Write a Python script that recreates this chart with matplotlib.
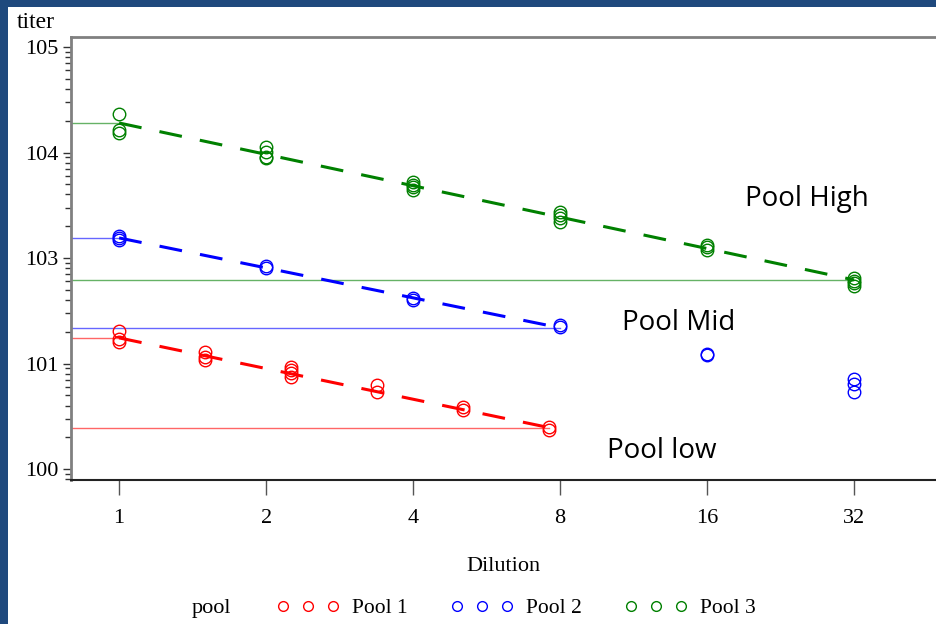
import matplotlib
matplotlib.use("Agg")
import matplotlib.pyplot as plt
from matplotlib.patches import Rectangle
from matplotlib.lines import Line2D
from matplotlib.ticker import LogLocator, NullFormatter, FixedLocator

# dilutions and titers
dil_p1 = [1, 1, 1, 1.5, 1.5, 1.5, 2.25, 2.25, 2.25, 2.25, 3.375, 3.375,
          5.0625, 5.0625, 7.59375, 7.59375]
tit_p1 = [20.3, 17.1, 16.0, 12.9, 11.6, 10.8, 9.33, 8.68, 8.06, 7.50,
          6.25, 5.41, 3.84, 3.62, 2.52, 2.34]

dil_p2 = [1, 1, 1, 2, 2, 4, 4, 8, 8, 16, 16, 32, 32, 32]
tit_p2 = [162, 155, 148, 84, 80.4, 41.8, 40.0, 23.0, 22.4, 12.3, 12.0,
          7.13, 6.40, 5.37]

dil_p3 = [1, 1, 1, 2, 2, 2, 2, 4, 4, 4, 4, 8, 8, 8, 8, 16, 16, 16,
          32, 32, 32, 32]
tit_p3 = [2320, 1630, 1530, 1130, 1010, 905, 885, 525, 492, 471, 441,
          273, 256, 239, 219, 133, 127, 119, 64.6, 60.5, 58.0, 54.3]

# fitted dashed lines (start / end)
fit_p1 = ([1, 7.59375], [17.5, 2.47])
fit_p2 = ([1, 8], [155, 21.8])
fit_p3 = ([1, 32], [1905, 62])

x_ticks = [1, 2, 4, 8, 16, 32]
x_labels = ["1", "2", "4", "8", "16", "32"]
y_ticks = [1, 10, 100, 1000, 10000]
y_labels = ["100", "101", "103", "104", "105"]

pools = ["Pool 1", "Pool 2", "Pool 3"]
colors = ["#FF0000", "#0000FF", "#008000"]
labels_txt = [("Pool High", 25.6, 360), ("Pool Mid", 14.0, 24.0), ("Pool low", 12.9, 1.48)]

serif = "Liberation Serif"

fig = plt.figure(figsize=(9.36, 6.24), dpi=100, facecolor="#1F497D")
fig.patches.append(Rectangle((8 / 936, 0), 1, 1 - 7 / 624, transform=fig.transFigure,
                             facecolor="white", edgecolor="none", zorder=-10))

ax = fig.add_axes([71 / 936, 1 - 480 / 624, 1 - 71 / 936, (480 - 37) / 624])
ax.set_zorder(1)
ax.patch.set_alpha(0)
ax.set_xscale("log", base=2)
ax.set_yscale("log")
xmin = 0.797
ax.set_xlim(xmin, 47.1)
ax.set_ylim(0.787, 12440)

data = [(dil_p1, tit_p1, fit_p1), (dil_p2, tit_p2, fit_p2), (dil_p3, tit_p3, fit_p3)]
for (dx, ty, fit), c in zip(data, colors):
    fx, fy = fit
    # horizontal reference lines
    for xv, yv in zip(fx, fy):
        ax.plot([xmin, xv], [yv, yv], color=c, lw=1.0, alpha=0.6, zorder=2)
    ax.plot(fx, fy, color=c, lw=2.2, dashes=(7.5, 6), zorder=3)
    ax.plot(dx, ty, linestyle="none", marker="o", markersize=9,
            markerfacecolor="none", markeredgecolor=c, markeredgewidth=1.0, zorder=4)

for txt, xv, yv in labels_txt:
    ax.text(xv, yv, txt, ha="center", va="center", fontsize=20, family="Open Sans")

ax.xaxis.set_major_locator(FixedLocator(x_ticks))
ax.set_xticklabels(x_labels, fontsize=16, family=serif)
ax.xaxis.set_minor_locator(FixedLocator([]))
ax.set_yticks(y_ticks)
ax.set_yticklabels(y_labels, fontsize=16, family=serif)
ax.yaxis.set_minor_locator(LogLocator(base=10, subs=range(2, 10)))
ax.yaxis.set_minor_formatter(NullFormatter())

ax.tick_params(axis="x", which="major", length=11, width=1, color="#555555", pad=10)
ax.tick_params(axis="y", which="major", length=6, width=1, color="#333333", pad=3)
ax.tick_params(axis="y", which="minor", length=4, width=1, color="#333333")

ax.spines["right"].set_visible(False)
ax.spines["top"].set_color("#808080")
ax.spines["top"].set_linewidth(2)
ax.spines["left"].set_color("#808080")
ax.spines["left"].set_linewidth(2)
ax.spines["bottom"].set_color("#222222")
ax.spines["bottom"].set_linewidth(1.5)

ax.set_xlabel("Dilution", fontsize=16, family=serif, labelpad=21)
fig.text(17 / 936, 1 - 22 / 624, "titer", fontsize=17, family=serif, va="center", ha="left")

handles = [Line2D([], [], linestyle="none", marker="o", markersize=7,
                  markerfacecolor="none", markeredgecolor=c, markeredgewidth=1.0)
           for c in colors]
fig.legend(handles, pools, loc="center left", bbox_to_anchor=(266 / 936, 1 - 608 / 624),
           ncol=3, numpoints=3, frameon=False, prop={"family": serif, "size": 15.5},
           handlelength=2.9, handletextpad=0.6, columnspacing=2.0, borderpad=0)
fig.text(211 / 936, 1 - 609 / 624, "pool", fontsize=16, family=serif, ha="center", va="center")

plt.savefig("out.png", dpi=100, facecolor=fig.get_facecolor())
